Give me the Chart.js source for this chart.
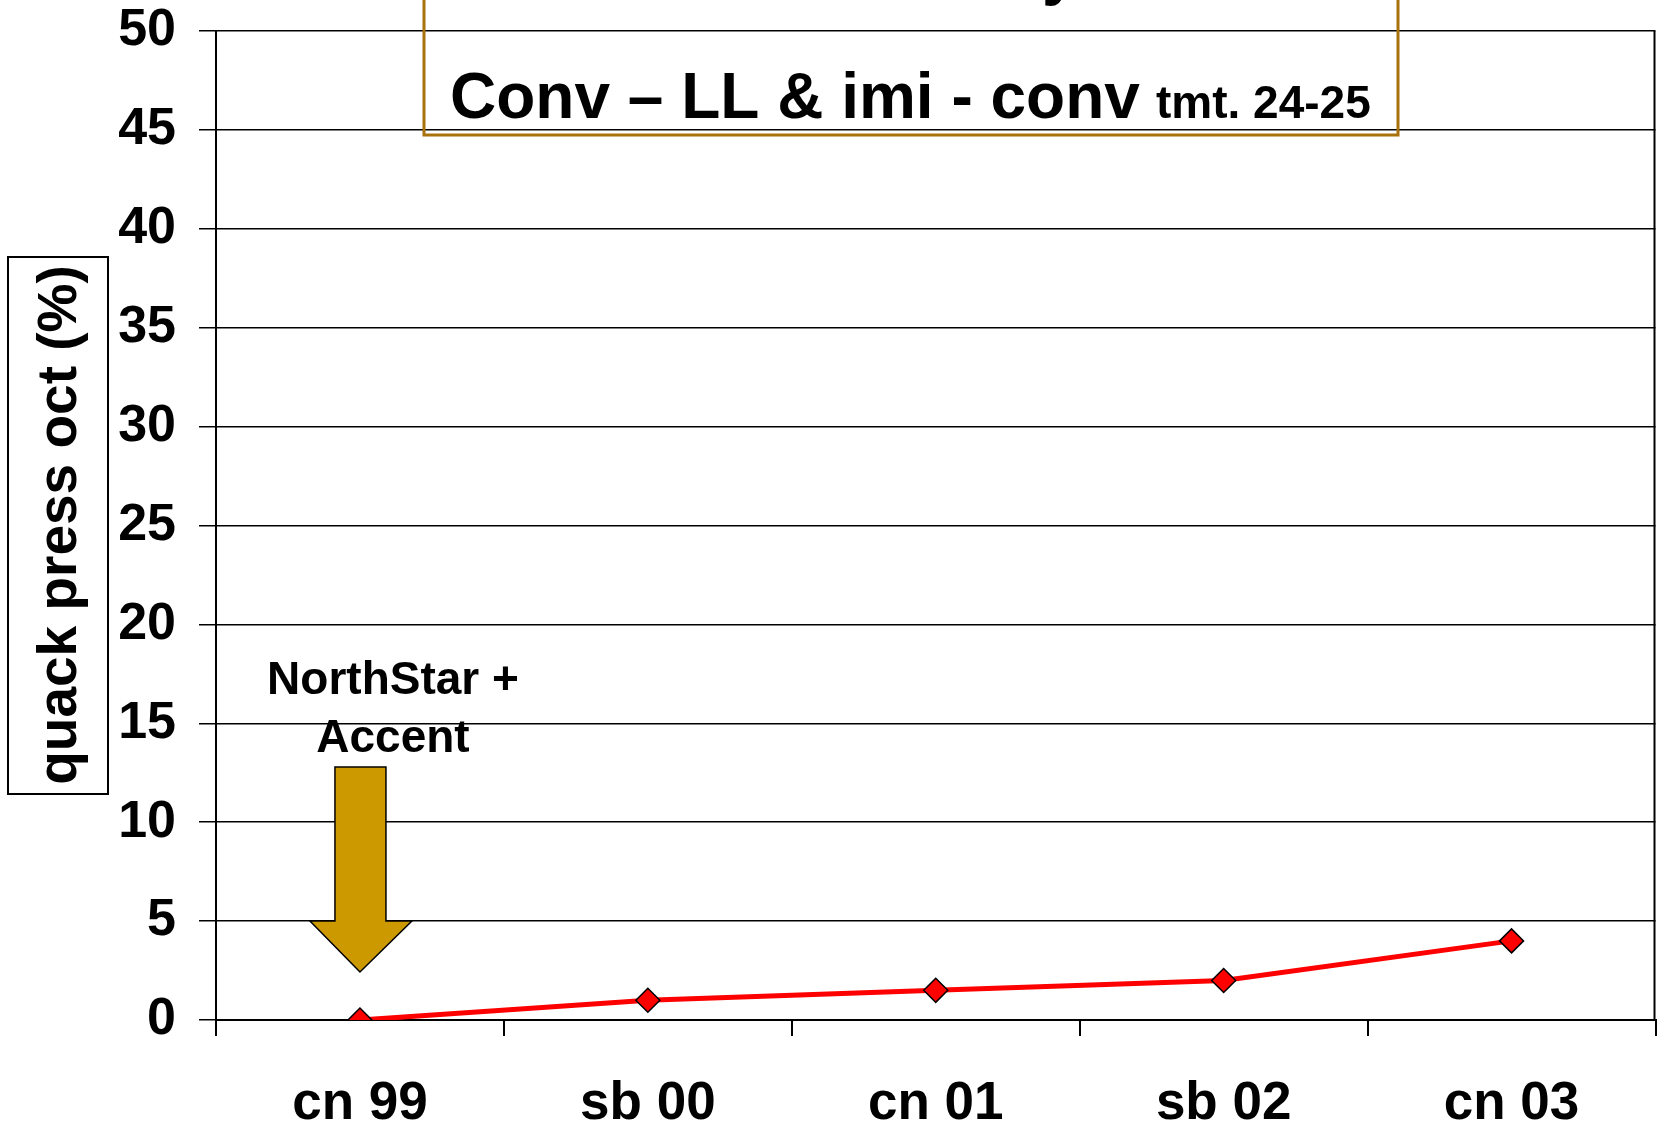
<!DOCTYPE html>
<html>
<head>
<meta charset="utf-8">
<script src="https://cdn.jsdelivr.net/npm/chart.js@4/dist/chart.umd.min.js"></script>
<style>
  html, body { margin: 0; padding: 0; background: #fff; overflow: hidden; }
</style>
</head>
<body>
<canvas id="chart" width="1669" height="1126"></canvas>
<script>
const categories = ['cn 99', 'sb 00', 'cn 01', 'sb 02', 'cn 03'];
const pressValues = [0, 1, 1.5, 2, 4];
const yTicks = [0, 5, 10, 15, 20, 25, 30, 35, 40, 45, 50];

const FONT = '"Liberation Sans", Arial, sans-serif';
const GOLD = '#A8720C';
const ARROW_FILL = '#CC9900';

// frame, title box, axis title and the arrow note, drawn on top of the chart
const overlay = {
  id: 'overlay',
  afterDraw(chart) {
    const { ctx, chartArea: a, scales } = chart;
    ctx.save();

    // right border of the plot
    ctx.strokeStyle = '#000';
    ctx.lineWidth = 2;
    ctx.beginPath();
    ctx.moveTo(a.right - 1, a.top);
    ctx.lineTo(a.right - 1, a.bottom);
    ctx.stroke();

    // y axis title in a box
    ctx.lineWidth = 2;
    ctx.strokeRect(8, 257, 100, 537);
    ctx.save();
    ctx.translate(76, 525);
    ctx.rotate(-Math.PI / 2);
    ctx.fillStyle = '#000';
    ctx.font = 'bold 55px ' + FONT;
    ctx.textAlign = 'center';
    ctx.textBaseline = 'alphabetic';
    ctx.fillText('quack press oct (%)', 0, 0);
    ctx.restore();

    // title box (top is cut off by the page edge)
    ctx.fillStyle = '#000';
    ctx.textBaseline = 'alphabetic';
    ctx.textAlign = 'left';
    ctx.font = 'bold 64px ' + FONT;
    ctx.fillText('y', 1042, -7);
    ctx.fillText('Conv \u2013 LL & imi - conv', 450, 118);
    ctx.font = 'bold 46px ' + FONT;
    ctx.fillText('tmt. 24-25', 1156, 118);
    ctx.strokeStyle = GOLD;
    ctx.lineWidth = 3;
    ctx.strokeRect(424, -10, 974, 145);

    // arrow pointing at the first season
    const ax = scales.x.getPixelForValue(0);
    ctx.beginPath();
    ctx.moveTo(ax - 25, 767);
    ctx.lineTo(ax + 26, 767);
    ctx.lineTo(ax + 26, 921);
    ctx.lineTo(ax + 52, 921);
    ctx.lineTo(ax, 972);
    ctx.lineTo(ax - 50, 921);
    ctx.lineTo(ax - 25, 921);
    ctx.closePath();
    ctx.fillStyle = ARROW_FILL;
    ctx.fill();
    ctx.strokeStyle = '#000';
    ctx.lineWidth = 1.5;
    ctx.stroke();

    ctx.fillStyle = '#000';
    ctx.font = 'bold 46px ' + FONT;
    ctx.textAlign = 'center';
    ctx.fillText('NorthStar +', 393, 694);
    ctx.fillText('Accent', 393, 752);

    ctx.restore();
  }
};

new Chart(document.getElementById('chart'), {
  type: 'line',
  data: {
    labels: categories,
    datasets: [{
      data: pressValues,
      borderColor: '#FF0000',
      borderWidth: 5,
      tension: 0,
      pointStyle: 'rectRot',
      pointRadius: 12,
      pointHoverRadius: 12,
      pointBackgroundColor: '#FF0000',
      pointBorderColor: '#000',
      pointBorderWidth: 1.5,
    }],
  },
  options: {
    responsive: false,
    animation: false,
    layout: { padding: { left: 118, right: 5, top: 31, bottom: 0 } },
    plugins: {
      legend: { display: false },
      tooltip: { enabled: false },
    },
    scales: {
      x: {
        offset: true,
        afterFit: axis => { axis.height = 106; },
        grid: {
          offset: true,
          drawOnChartArea: false,
          drawTicks: true,
          tickLength: 16,
          color: '#000',
          lineWidth: 2,
        },
        border: { display: true, color: '#000', width: 2 },
        ticks: {
          color: '#000',
          padding: 42,
          maxRotation: 0,
          font: { family: FONT, size: 53, weight: 'bold', lineHeight: 1 },
        },
      },
      y: {
        min: 0,
        max: 50,
        afterFit: axis => {
          axis.width = 98;
          axis.paddingTop = 0;
          axis.paddingBottom = 0;
        },
        afterBuildTicks: axis => { axis.ticks = yTicks.map(v => ({ value: v })); },
        grid: {
          color: '#000',
          lineWidth: 1.5,
          tickLength: 17,
        },
        border: { display: true, color: '#000', width: 2 },
        ticks: {
          color: '#000',
          padding: 23,
          font: { family: FONT, size: 52, weight: 'bold', lineHeight: 1 },
        },
      },
    },
  },
  plugins: [overlay],
});
</script>
</body>
</html>
